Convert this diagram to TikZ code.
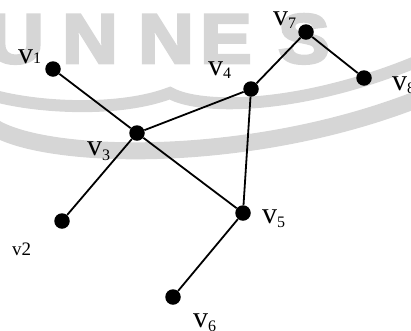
\documentclass[tikz,border=0pt]{standalone}
\usepackage{fontspec}
\setmainfont{Liberation Serif}
\newfontfamily\wmfont{Liberation Sans Bold}[FakeBold=4]
\definecolor{wmgray}{RGB}{214,214,214}
% vertex name with a small index set a little below (or level with) the letter
\newcommand{\vlab}[2]{v\raisebox{#1}{\fontsize{16}{16}\selectfont #2}}
\begin{document}
\begin{tikzpicture}[x=1pt,y=-1pt,
  vtx/.style={circle,fill=black,inner sep=0pt,minimum size=15.5pt},
  edge/.style={line width=1.8pt},
  lbl/.style={anchor=base west,inner sep=0pt,font=\fontsize{30}{30}\selectfont},
  wm/.style={anchor=base west,inner sep=0pt,text=wmgray,
             font=\wmfont\fontsize{70}{70}\selectfont},
  band/.style={draw=wmgray,line cap=butt}]
\useasboundingbox (0,0) rectangle (411,330);
\clip (0,0) rectangle (411,330);

% background logo: lettering and two curved stripes
\node[wm] (wU)  at (-12,63) {\scalebox{1.1}[1]{U}};
\node[wm] (wN1) at (62,63)  {\scalebox{1.1}[1]{N}};
\node[wm] (wN2) at (138,63) {\scalebox{1.1}[1]{N}};
\node[wm] (wE)  at (200,63) {\scalebox{1.1}[1]{E}};
\node[wm] (wS)  at (278,63) {\scalebox{1.1}[1]{S}};
\draw[band,line width=12pt] (-5,96) .. controls (40,108) and (120,112) .. (170,93)
                            .. controls (200,110) and (300,110) .. (418,61);
\draw[band,line width=17pt] (-5,128) .. controls (50,160) and (250,165) .. (418,99);

% vertices
\node[vtx] (v1) at (53,69) {};
\node[vtx] (v2) at (62,221) {};
\node[vtx] (v3) at (137,133) {};
\node[vtx] (v4) at (251,89) {};
\node[vtx] (v5) at (243,213) {};
\node[vtx] (v6) at (173,297) {};
\node[vtx] (v7) at (306,32) {};
\node[vtx] (v8) at (364,78) {};

% edges
\draw[edge] (v1) -- (v3);
\draw[edge] (v2) -- (v3);
\draw[edge] (v3) -- (v4);
\draw[edge] (v3) -- (v5);
\draw[edge] (v4) -- (v5);
\draw[edge] (v4) -- (v7);
\draw[edge] (v7) -- (v8);
\draw[edge] (v5) -- (v6);

% labels
\node[lbl] (l1) at (18,63)  {\vlab{0pt}{1}};
\node[lbl] (l3) at (87,155) {\vlab{-5pt}{3}};
\node[lbl] (l4) at (208,75) {\vlab{-3pt}{4}};
\node[lbl] (l5) at (262,223) {\vlab{-4pt}{5}};
\node[lbl] (l6) at (193,327) {\vlab{-4pt}{6}};
\node[lbl] (l7) at (273,25) {\vlab{-3pt}{7}};
\node[lbl] (l8) at (392,90) {\vlab{-3pt}{8}};
\node[anchor=base west,inner sep=0pt,font=\fontsize{19}{19}\selectfont] (l2) at (12,255) {v2};
\end{tikzpicture}
\end{document}
